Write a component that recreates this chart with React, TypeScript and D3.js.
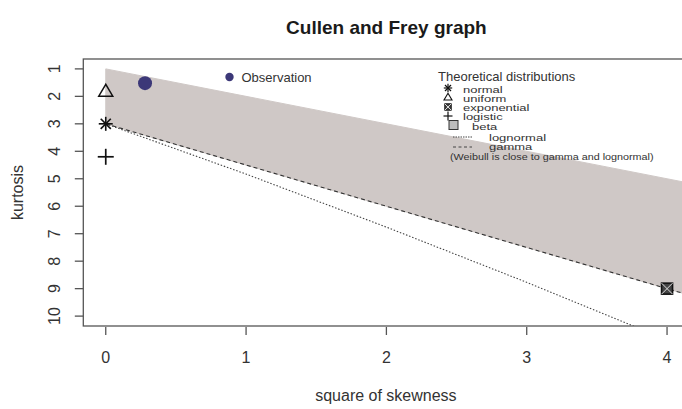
import React from "react";
import * as d3 from "d3";

// Cullen and Frey graph: square of skewness vs kurtosis (kurtosis axis reversed)
const W = 682;
const H = 409;

const xTicks = [0, 1, 2, 3, 4];
const yTicks = [1, 2, 3, 4, 5, 6, 7, 8, 9, 10];
const xDomain = [-0.16, 4.16];
const yDomain = [0.64, 10.36];

// observed sample
const obsSkew2 = [0.28];
const obsKurt = [1.52];

// theoretical distributions (single points)
const distNames = ["normal", "uniform", "exponential", "logistic"];
const distSkew2 = [0, 0, 4, 0];
const distKurt = [3, 1.8, 9, 4.2];

// beta region: upper limit and gamma line
const betaTopSkew2 = [0, 4.3];
const betaTopKurt = [1, 5.3];
const gammaSkew2 = [0, 4.3];
const gammaKurt = [3, 9.45];

// lognormal curve
const lognormSkew2 = [0, 1, 2, 3, 3.75, 4.1];
const lognormKurt = [3, 4.83, 6.76, 8.77, 10.34, 11.05];

const legendItems = ["normal", "uniform", "exponential", "logistic", "beta", "lognormal", "gamma"];

const FONT = "'Liberation Sans', Arial, Helvetica, sans-serif";

function Star({ cx, cy, r, sw = 1.5 }: { cx: number; cy: number; r: number; sw?: number }) {
  const d = r * 0.72;
  return (
    <g stroke="#111" strokeWidth={sw} strokeLinecap="butt">
      <line x1={cx - r} y1={cy} x2={cx + r} y2={cy} />
      <line x1={cx} y1={cy - r} x2={cx} y2={cy + r} />
      <line x1={cx - d} y1={cy - d} x2={cx + d} y2={cy + d} />
      <line x1={cx - d} y1={cy + d} x2={cx + d} y2={cy - d} />
    </g>
  );
}

function Plus({ cx, cy, r, sw = 1.6 }: { cx: number; cy: number; r: number; sw?: number }) {
  return (
    <g stroke="#111" strokeWidth={sw}>
      <line x1={cx - r} y1={cy} x2={cx + r} y2={cy} />
      <line x1={cx} y1={cy - r} x2={cx} y2={cy + r} />
    </g>
  );
}

function Triangle({ cx, cy, r, sw = 1.5 }: { cx: number; cy: number; r: number; sw?: number }) {
  const h = r * 1.7;
  const pts = [
    [cx, cy - h * 0.55],
    [cx - r, cy + h * 0.45],
    [cx + r, cy + h * 0.45],
  ];
  return <polygon points={pts.map((p) => p.join(",")).join(" ")} fill="none" stroke="#111" strokeWidth={sw} />;
}

function BoxX({ cx, cy, r, sw = 1.6 }: { cx: number; cy: number; r: number; sw?: number }) {
  return (
    <g stroke="#111" strokeWidth={sw} fill="#444">
      <rect x={cx - r} y={cy - r} width={2 * r} height={2 * r} />
      <line x1={cx - r} y1={cy - r} x2={cx + r} y2={cy + r} stroke="#ddd" strokeWidth={1} />
      <line x1={cx - r} y1={cy + r} x2={cx + r} y2={cy - r} stroke="#ddd" strokeWidth={1} />
    </g>
  );
}

export default function App() {
  const left = 83.3;
  const right = 689.5;
  const top = 59;
  const bottom = 326;

  const x = d3.scaleLinear().domain(xDomain).range([left, right]);
  const y = d3.scaleLinear().domain(yDomain).range([top, bottom]);

  const line = d3
    .line<[number, number]>()
    .x((d) => x(d[0]))
    .y((d) => y(d[1]));

  const topPts: [number, number][] = betaTopSkew2.map((s, i) => [s, betaTopKurt[i]]);
  const gammaPts: [number, number][] = gammaSkew2.map((s, i) => [s, gammaKurt[i]]);
  const lognormPts: [number, number][] = lognormSkew2.map((s, i) => [s, lognormKurt[i]]);
  const regionPts = [...topPts, ...gammaPts.slice().reverse()];
  const regionPath = line(regionPts) + "Z";

  const markerFor = (name: string, cx: number, cy: number, big: boolean) => {
    if (name === "normal") return <Star cx={cx} cy={cy} r={big ? 7 : 4.2} sw={big ? 1.6 : 1.2} />;
    if (name === "uniform") return <Triangle cx={cx} cy={cy} r={big ? 7 : 4} sw={big ? 1.5 : 1.1} />;
    if (name === "exponential") return <BoxX cx={cx} cy={cy} r={big ? 5.5 : 3.2} sw={big ? 1.6 : 1} />;
    if (name === "logistic") return <Plus cx={cx} cy={cy} r={big ? 8 : 4.5} sw={big ? 1.7 : 1.2} />;
    return null;
  };

  // legend layout (entries are set tightly, text squeezed vertically)
  const legX = 438;
  const symX = 448;
  const squeeze = 0.68;
  const legRows = [
    { name: "normal", sy: 88, ty: 93, tx: 463 },
    { name: "uniform", sy: 97, ty: 101.5, tx: 463 },
    { name: "exponential", sy: 107, ty: 110.5, tx: 463 },
    { name: "logistic", sy: 116, ty: 119.5, tx: 463 },
    { name: "beta", sy: 125, ty: 129.5, tx: 472 },
    { name: "lognormal", sy: 137, ty: 140.5, tx: 489 },
    { name: "gamma", sy: 147, ty: 150, tx: 489 },
  ];

  return (
    <svg
      width={W}
      height={H}
      viewBox={`0 0 ${W} ${H}`}
      style={{ position: "absolute", left: 0, top: 0, background: "#fff" }}
      fontFamily={FONT}
    >
      <defs>
        <clipPath id="plotArea">
          <rect x={left} y={top} width={right - left} height={bottom - top} />
        </clipPath>
      </defs>
      <rect x={0} y={0} width={W} height={H} fill="#fff" />

      <text x={(left + right) / 2} y={34} textAnchor="middle" fontSize={19} fontWeight="bold" fill="#1a1a1a">
        Cullen and Frey graph
      </text>

      <g clipPath="url(#plotArea)">
        <path d={regionPath} fill="#cfc8c6" stroke="#cfc8c6" strokeWidth={1} />
        <path d={line(gammaPts) || ""} fill="none" stroke="#333" strokeWidth={1.1} strokeDasharray="4,3" />
        <path d={line(lognormPts) || ""} fill="none" stroke="#444" strokeWidth={1.1} strokeDasharray="1.5,1.8" />
      </g>

      {/* theoretical points */}
      {distNames.map((n, i) => (
        <g key={n}>{markerFor(n, x(distSkew2[i]), y(distKurt[i]), true)}</g>
      ))}

      {/* observation */}
      {obsSkew2.map((s, i) => (
        <circle key={i} cx={x(s)} cy={y(obsKurt[i])} r={7} fill="#3c3878" />
      ))}

      {/* plot frame */}
      <rect x={left} y={top} width={right - left} height={bottom - top} fill="none" stroke="#555" strokeWidth={1.3} />

      {/* x axis */}
      {xTicks.map((t) => (
        <g key={t}>
          <line x1={x(t)} x2={x(t)} y1={bottom + 1} y2={bottom + 9} stroke="#555" strokeWidth={1.3} />
          <text x={x(t)} y={362.5} textAnchor="middle" fontSize={16} fill="#333">
            {t}
          </text>
        </g>
      ))}
      <text x={(left + right) / 2 - 0.5} y={401} textAnchor="middle" fontSize={16} fill="#333">
        square of skewness
      </text>

      {/* y axis */}
      {yTicks.map((t) => (
        <g key={t}>
          <line x1={left - 8.5} x2={left} y1={y(t)} y2={y(t)} stroke="#555" strokeWidth={1.3} />
          <text
            transform={`translate(60,${y(t)}) rotate(-90)`}
            textAnchor="middle"
            fontSize={16}
            fill="#333"
          >
            {t}
          </text>
        </g>
      ))}
      <text transform={`translate(23,${(top + bottom) / 2}) rotate(-90)`} textAnchor="middle" fontSize={16} fill="#333">
        kurtosis
      </text>

      {/* observation legend */}
      <circle cx={229.5} cy={77} r={4.2} fill="#3c3878" />
      <text x={241.5} y={81.5} fontSize={13} fill="#333">
        Observation
      </text>

      {/* theoretical distributions legend */}
      <text x={legX} y={81} fontSize={13} fill="#333">
        Theoretical distributions
      </text>
      {legRows.map((r) => (
        <g key={r.name}>
          {r.name === "beta" ? (
            <rect x={symX + 1} y={r.sy - 4.5} width={9} height={9} fill="#bdbdbd" stroke="#333" strokeWidth={1} />
          ) : r.name === "lognormal" ? (
            <line x1={symX + 5} x2={symX + 24} y1={r.sy} y2={r.sy} stroke="#444" strokeWidth={1} strokeDasharray="1.5,1" />
          ) : r.name === "gamma" ? (
            <line x1={symX + 5} x2={symX + 24} y1={r.sy} y2={r.sy} stroke="#444" strokeWidth={1} strokeDasharray="3,2.5" />
          ) : (
            markerFor(r.name, symX, r.sy, false)
          )}
          <text
            transform={`translate(${r.tx},${r.ty}) scale(1,${squeeze})`}
            fontSize={13}
            fill="#333"
          >
            {legendItems[legendItems.indexOf(r.name)]}
          </text>
        </g>
      ))}
      <text transform={`translate(450,159.5) scale(1,0.8)`} fontSize={10.8} fill="#333">
        (Weibull is close to gamma and lognormal)
      </text>
    </svg>
  );
}
